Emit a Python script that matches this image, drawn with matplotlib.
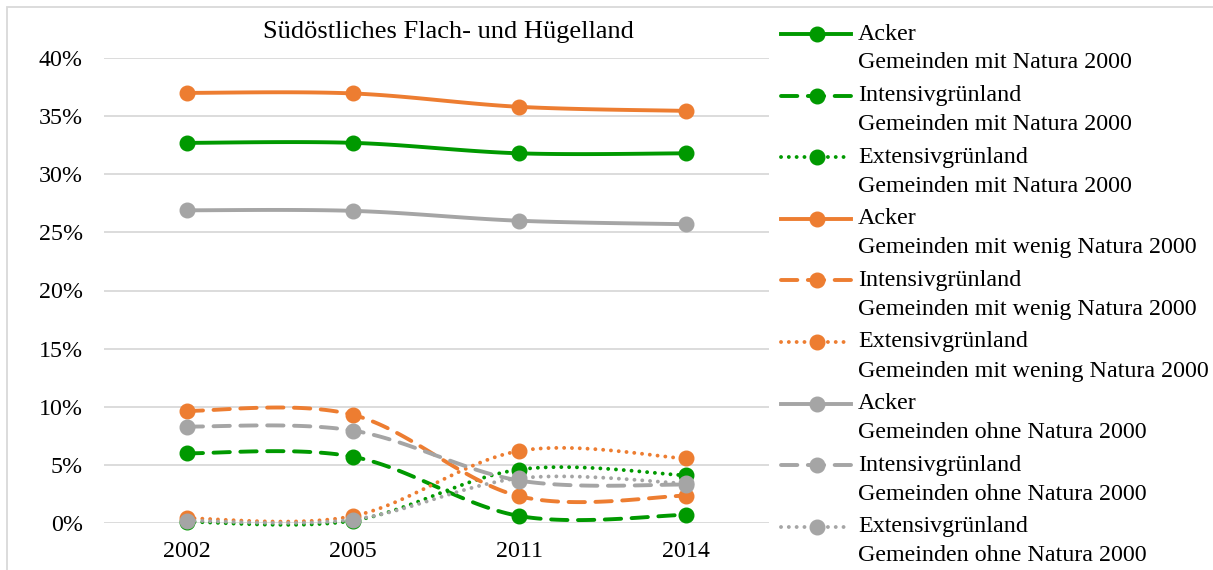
import numpy as np
import matplotlib
matplotlib.use("Agg")
import matplotlib.pyplot as plt
from matplotlib.lines import Line2D
from matplotlib.patches import Rectangle
from matplotlib.ticker import PercentFormatter, MultipleLocator

plt.rcParams['font.family'] = ['Liberation Serif', 'DejaVu Serif']

years = ['2002', '2005', '2011', '2014']
title = 'Südöstliches Flach- und Hügelland'

# shares in percent
acker_mit = [32.7, 32.7, 31.8, 31.8]
intensiv_mit = [6.0, 5.7, 0.6, 0.7]
extensiv_mit = [0.1, 0.2, 4.6, 4.1]
acker_wenig = [37.0, 36.95, 35.8, 35.45]
intensiv_wenig = [9.65, 9.3, 2.3, 2.35]
extensiv_wenig = [0.4, 0.6, 6.2, 5.55]
acker_ohne = [26.9, 26.85, 26.0, 25.7]
intensiv_ohne = [8.3, 7.95, 3.65, 3.3]
extensiv_ohne = [0.2, 0.3, 3.85, 3.4]

green = '#009900'
orange = '#ED7D31'
gray = '#A5A5A5'

solid = '-'
dashed = (0, (4.2, 2.7))
dotted = (0, (0.01, 2.0))

series = [
    (acker_mit, green, solid, 'Acker', 'Gemeinden mit Natura 2000'),
    (intensiv_mit, green, dashed, 'Intensivgrünland', 'Gemeinden mit Natura 2000'),
    (extensiv_mit, green, dotted, 'Extensivgrünland', 'Gemeinden mit Natura 2000'),
    (acker_wenig, orange, solid, 'Acker', 'Gemeinden mit wenig Natura 2000'),
    (intensiv_wenig, orange, dashed, 'Intensivgrünland', 'Gemeinden mit wenig Natura 2000'),
    (extensiv_wenig, orange, dotted, 'Extensivgrünland', 'Gemeinden mit wening Natura 2000'),
    (acker_ohne, gray, solid, 'Acker', 'Gemeinden ohne Natura 2000'),
    (intensiv_ohne, gray, dashed, 'Intensivgrünland', 'Gemeinden ohne Natura 2000'),
    (extensiv_ohne, gray, dotted, 'Extensivgrünland', 'Gemeinden ohne Natura 2000'),
]


def smooth(ys, n=40):
    # Excel-like smoothed line (Catmull-Rom as cubic Bezier)
    x = np.arange(len(ys), dtype=float)
    y = np.asarray(ys, dtype=float)
    px = np.concatenate([[x[0]], x, [x[-1]]])
    py = np.concatenate([[y[0]], y, [y[-1]]])
    t = np.linspace(0, 1, n)
    out_x, out_y = [], []
    for i in range(len(x) - 1):
        p0 = np.array([px[i + 1], py[i + 1]])
        p3 = np.array([px[i + 2], py[i + 2]])
        c1 = p0 + (p3 - np.array([px[i], py[i]])) / 6
        c2 = p3 - (np.array([px[i + 3], py[i + 3]]) - p0) / 6
        b = ((1 - t) ** 3)[:, None] * p0 + (3 * (1 - t) ** 2 * t)[:, None] * c1 \
            + (3 * (1 - t) * t ** 2)[:, None] * c2 + (t ** 3)[:, None] * p3
        out_x.extend(b[:, 0])
        out_y.extend(b[:, 1])
    return out_x, out_y


W, H = 1213, 570
fs = 17.3
fig = plt.figure(figsize=(W / 100, H / 100), dpi=100)
ax = fig.add_axes([103.5 / W, 47 / H, (769 - 103.5) / W, (523 - 58) / H])

lw = 2.8
for vals, color, ls, _, _ in series:
    sx, sy = smooth(vals)
    ax.plot(sx, sy, color=color, lw=lw, linestyle=ls, dash_capstyle='round',
            solid_capstyle='round', clip_on=False, zorder=3)
    ax.plot(range(len(vals)), vals, 'o', color=color, ms=10.5, mec=color,
            clip_on=False, zorder=3)

ax.set_xlim(-0.5, 3.5)
ax.set_ylim(0, 40)
ax.yaxis.set_major_locator(MultipleLocator(5))
ax.yaxis.set_major_formatter(PercentFormatter(100, decimals=0))
ax.set_xticks(range(len(years)))
ax.set_xticklabels(years)
ax.tick_params(length=0, labelsize=fs, colors='black')
ax.tick_params(axis='x', pad=13)
ax.tick_params(axis='y', pad=15)
ax.grid(axis='y', color='#D9D9D9', lw=1.3)
ax.set_axisbelow(True)
for s in ax.spines.values():
    s.set_visible(False)

fig.text(448 / W, 1 - 32 / H, title, ha='center', va='center', fontsize=19)

# legend, two lines per entry
for i, (vals, color, ls, name, group) in enumerate(series):
    yc = 1 - (34 + i * 61.6) / H
    fig.add_artist(Line2D([781 / W, 851 / W], [yc, yc], transform=fig.transFigure,
                          color=color, lw=lw, linestyle=ls, dash_capstyle='round'))
    fig.add_artist(Line2D([816.5 / W], [yc], transform=fig.transFigure,
                          marker='o', ms=10.5, color=color))
    fig.text(858 / W, yc, name, ha='left', va='center', fontsize=fs)
    fig.text(858 / W, yc - 29 / H, group, ha='left', va='center', fontsize=fs)

fig.add_artist(Rectangle((7 / W, -0.05), 1.2, 1 - 7 / H + 0.05, transform=fig.transFigure,
                         fill=False, edgecolor='#D9D9D9', lw=1.3))

fig.savefig('out.png', dpi=100)
